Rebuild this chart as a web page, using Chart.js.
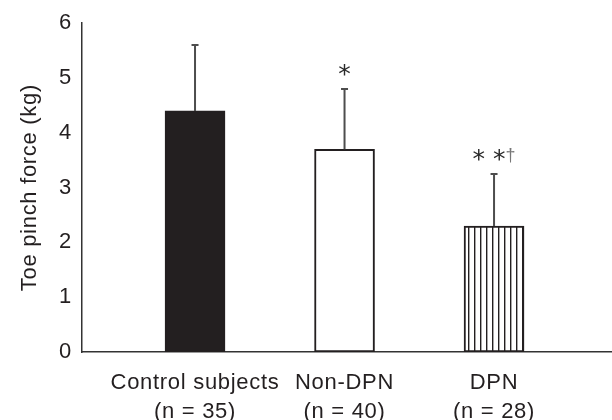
<!DOCTYPE html>
<html><head><meta charset="utf-8">
<script src="https://cdn.jsdelivr.net/npm/chart.js@4"></script>
<style>html,body{margin:0;padding:0;background:#fff;} canvas{display:block;background:#fff;}</style>
</head><body>
<canvas id="c" width="612" height="420"></canvas>
<script>
const categories = ['Control subjects', 'Non-DPN', 'DPN'];
const sampleSizes = ['(n = 35)', '(n = 40)', '(n = 28)'];
const means = [4.4, 3.7, 2.3];
const sds = [1.2, 1.1, 0.95];
const stars = ['', '*', '* *'];
const daggers = ['', '', '†'];
const yTicks = [0, 1, 2, 3, 4, 5, 6];

const INK = '#231f20';
const FONT = "'Liberation Sans', Arial, Helvetica, sans-serif";
const STAR_FONT = "25px 'DejaVu Sans', sans-serif";
const DAGGER_FONT = "18px 'Liberation Sans', Arial, sans-serif";

function stripePattern() {
  const p = document.createElement('canvas');
  p.width = 6; p.height = 6;
  const g = p.getContext('2d');
  g.fillStyle = '#ffffff'; g.fillRect(0, 0, 6, 6);
  g.fillStyle = INK; g.fillRect(0, 0, 1.4, 6);
  return document.getElementById('c').getContext('2d').createPattern(p, 'repeat');
}

const spacingPlugin = {
  id: 'spacing',
  beforeLayout(chart) { chart.ctx.letterSpacing = '0.7px'; },
  beforeDraw(chart) { chart.ctx.letterSpacing = '0.7px'; }
};

const errorPlugin = {
  id: 'errors',
  afterDatasetsDraw(chart) {
    const ctx = chart.ctx;
    const ys = chart.scales.y;
    const meta = chart.getDatasetMeta(0);
    ctx.save();
    ctx.letterSpacing = '0px';
    meta.data.forEach((bar, i) => {
      const x = bar.x;
      const yErr = ys.getPixelForValue(means[i] + sds[i]);
      ctx.strokeStyle = '#4d4d4d';
      ctx.lineWidth = 2;
      ctx.beginPath();
      ctx.moveTo(x, bar.y); ctx.lineTo(x, yErr);
      ctx.moveTo(x - 3.5, yErr); ctx.lineTo(x + 3.5, yErr);
      ctx.stroke();
      // significance marks
      const cy = yErr - 19;
      ctx.font = STAR_FONT;
      const sText = stars[i];
      const sm = ctx.measureText(sText || '*');
      const sw = sText ? sm.width : 0;
      ctx.font = DAGGER_FONT;
      const dText = daggers[i];
      const dw = dText ? ctx.measureText(dText).width : 0;
      const total = sw + dw;
      if (!total) return;
      let sx = x - total / 2;
      ctx.textAlign = 'left';
      ctx.textBaseline = 'alphabetic';
      let starTop = cy - 6;
      if (sText) {
        ctx.font = STAR_FONT;
        ctx.fillStyle = '#2a2a2a';
        const base = cy + (sm.actualBoundingBoxAscent - sm.actualBoundingBoxDescent) / 2;
        starTop = base - sm.actualBoundingBoxAscent;
        ctx.fillText(sText, sx, base);
        sx += sw;
      }
      if (dText) {
        ctx.font = DAGGER_FONT;
        ctx.fillStyle = '#777';
        const dm = ctx.measureText(dText);
        ctx.fillText(dText, sx, starTop - 1 + dm.actualBoundingBoxAscent);
      }
    });
    ctx.restore();
  }
};

new Chart(document.getElementById('c'), {
  type: 'bar',
  data: {
    datasets: [{
      data: means.map((m, i) => ({ x: i, y: m })),
      backgroundColor: [INK, '#ffffff', stripePattern()],
      borderColor: INK,
      borderWidth: 2,
      borderSkipped: false,
      barThickness: 60
    }]
  },
  options: {
    responsive: false,
    animation: false,
    devicePixelRatio: 1,
    layout: { padding: { top: 23, right: 0, bottom: 0, left: 0 } },
    plugins: { legend: { display: false }, tooltip: { enabled: false } },
    scales: {
      x: {
        type: 'linear',
        offset: false,
        min: -0.756,
        max: 2.789,
        afterBuildTicks: s => { s.ticks = categories.map((c, i) => ({ value: i })); },
        afterFit: s => { s.height = 68; },
        ticks: {
          callback: (v, idx) => [categories[idx], sampleSizes[idx]],
          font: { family: FONT, size: 22, lineHeight: 1.32 },
          color: INK,
          padding: 16,
          maxRotation: 0,
          autoSkip: false
        },
        grid: { display: false, drawTicks: false, offset: false },
        border: { display: true, color: '#333', width: 1.5 }
      },
      y: {
        min: 0,
        max: 6,
        afterBuildTicks: s => { s.ticks = yTicks.map(v => ({ value: v })); },
        afterFit: s => { s.width = 82; },
        ticks: { font: { family: FONT, size: 22 }, color: INK, padding: 10 },
        grid: { display: false, drawTicks: false },
        border: { display: true, color: '#333', width: 1.5 },
        title: {
          display: true,
          text: 'Toe pinch force (kg)',
          font: { family: FONT, size: 22 },
          color: INK,
          padding: { top: 17, bottom: 0 }
        }
      }
    }
  },
  plugins: [spacingPlugin, errorPlugin]
});
</script>
</body></html>
